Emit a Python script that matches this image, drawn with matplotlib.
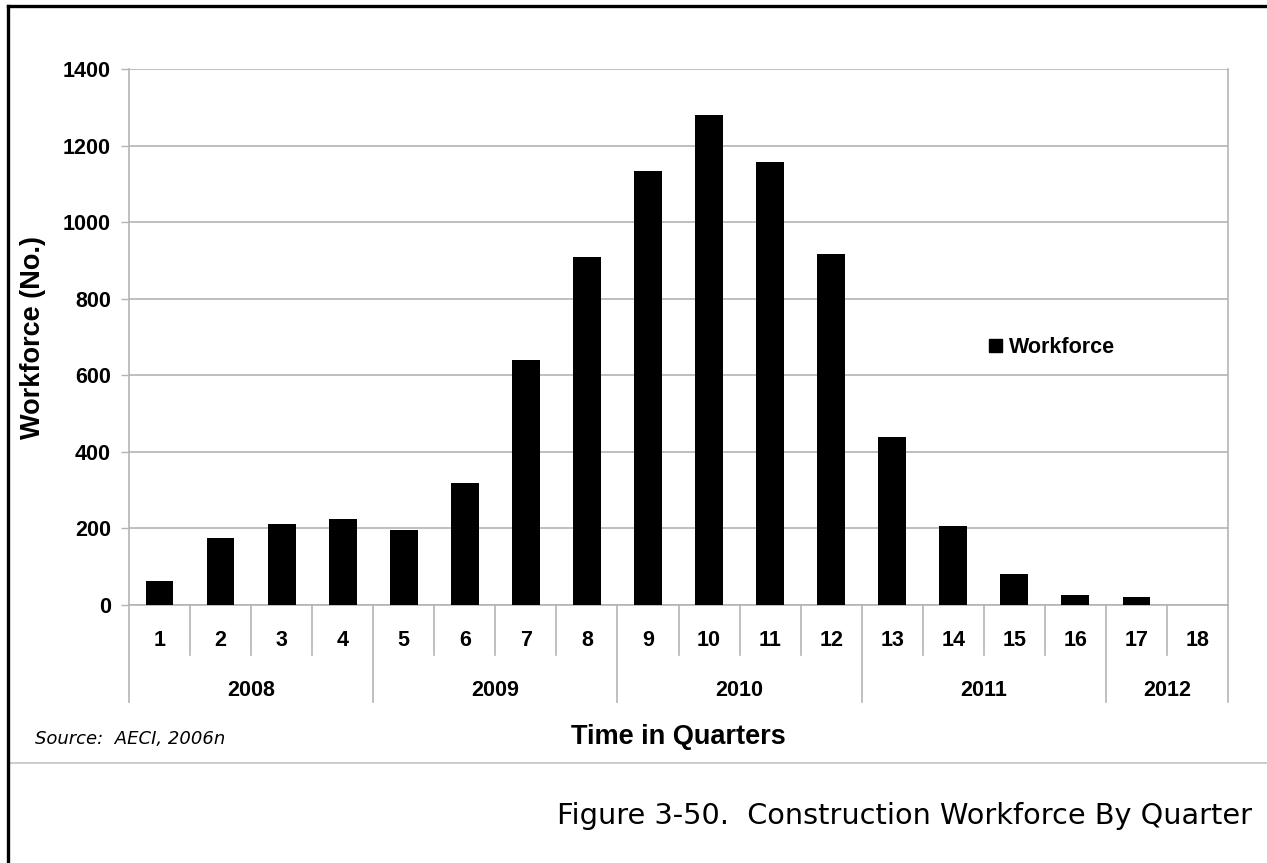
import matplotlib
matplotlib.use('Agg')
import matplotlib.pyplot as plt
from matplotlib.lines import Line2D
from matplotlib.patches import Patch

# data
quarters = [str(i) for i in range(1, 19)]
workforce = [62, 175, 211, 224, 197, 318, 639, 908, 1133, 1281, 1156, 918, 440, 207, 82, 26, 21, 0]
years = ['2008', '2009', '2010', '2011', '2012']
quarters_per_year = [4, 4, 4, 4, 2]
y_ticks = [0, 200, 400, 600, 800, 1000, 1200, 1400]

W, H = 1267, 863
fig = plt.figure(figsize=(W / 100, H / 100), dpi=100)

# plot area in pixels: x 129..1228, y 69..605
ax = fig.add_axes([129 / W, 1 - 605 / H, (1228 - 129) / W, (605 - 69) / H])

grid_col = '#b4b4b4'
bold_font = {'family': 'Liberation Sans', 'weight': 'bold'}

x = list(range(len(quarters)))
ax.bar(x, workforce, width=0.455, color='black', zorder=3)

ax.set_xlim(-0.5, len(quarters) - 0.5)
ax.set_ylim(0, 1400)
ax.set_yticks(y_ticks)
ax.set_yticklabels([str(v) for v in y_ticks], fontdict=bold_font, fontsize=15.5)
ax.yaxis.grid(True, color=grid_col, linewidth=1.2, zorder=0)
ax.tick_params(axis='y', length=6, width=1, color=grid_col, pad=7)
ax.set_xticks([])

for side in ['top', 'bottom']:
    ax.spines[side].set_visible(False)
for side in ['left', 'right']:
    ax.spines[side].set_color(grid_col)
    ax.spines[side].set_linewidth(1.2)

trans = ax.get_xaxis_transform()
ax.plot([-0.5, len(quarters) - 0.5], [0, 0], color=grid_col, lw=1.2, transform=trans, clip_on=False)

# two-level category axis
q_bottom = -50 / 536
y_bottom = -97 / 536
year_edges = [-0.5]
for n in quarters_per_year:
    year_edges.append(year_edges[-1] + n)

for i, q in enumerate(quarters):
    ax.text(i, -35 / 536, q, transform=trans, ha='center', va='center',
            fontdict=bold_font, fontsize=15.5)
for b in range(1, len(quarters)):
    edge = b - 0.5
    if edge in year_edges:
        continue
    ax.plot([edge, edge], [0, q_bottom], color=grid_col, lw=1.2, transform=trans, clip_on=False)
for edge in year_edges:
    ax.plot([edge, edge], [0, y_bottom], color=grid_col, lw=1.2, transform=trans, clip_on=False)
for k, yr in enumerate(years):
    mid = (year_edges[k] + year_edges[k + 1]) / 2
    ax.text(mid, -85 / 536, yr, transform=trans, ha='center', va='center',
            fontdict=bold_font, fontsize=15.5)

ax.set_ylabel('Workforce (No.)', fontdict=bold_font, fontsize=19.5, labelpad=12)

# legend
handle = Patch(facecolor='black', edgecolor='black', label='Workforce')
ax.legend(handles=[handle], loc='center left', bbox_to_anchor=(0.765, 0.48),
          frameon=False, prop={'family': 'Liberation Sans', 'weight': 'bold', 'size': 15.5},
          handlelength=0.6, handleheight=0.6, handletextpad=0.3)

# texts below the chart
fig.text(678.5 / W, 1 - 737 / H, 'Time in Quarters', ha='center', va='center',
         fontdict=bold_font, fontsize=19.5)
fig.text(35 / W, 1 - 739 / H, 'Source:  AECI, 2006n', ha='left', va='center',
         family='DejaVu Sans', style='italic', fontsize=13)
fig.text(1252 / W, 1 - 816 / H, 'Figure 3-50.  Construction Workforce By Quarter',
         ha='right', va='center', family='DejaVu Sans', fontsize=20.7)

# separator line and frame
fig.add_artist(Line2D([8 / W, 1.0], [1 - 763 / H, 1 - 763 / H], color='#c8c8c8', lw=1.3))
fig.add_artist(Line2D([8 / W, 1.0], [1 - 6 / H, 1 - 6 / H], color='black', lw=2.4))
fig.add_artist(Line2D([8 / W, 8 / W], [0, 1 - 6 / H], color='black', lw=2.4))

fig.savefig('out.png', dpi=100)
